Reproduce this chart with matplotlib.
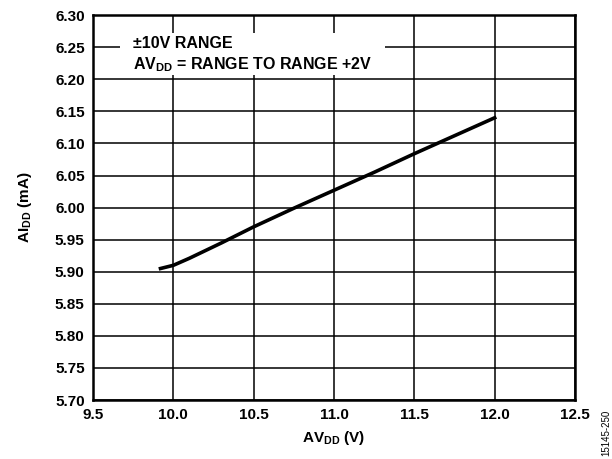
import numpy as np
import matplotlib
matplotlib.use("Agg")
import matplotlib.pyplot as plt
from matplotlib.patches import Rectangle

plt.rcParams['font.family'] = ['Liberation Sans', 'DejaVu Sans']
plt.rcParams['font.weight'] = 'bold'
plt.rcParams['axes.labelweight'] = 'bold'
plt.rcParams['mathtext.fontset'] = 'custom'
plt.rcParams['mathtext.rm'] = 'Liberation Sans:bold'
plt.rcParams['mathtext.it'] = 'Liberation Sans:bold'
plt.rcParams['mathtext.bf'] = 'Liberation Sans:bold'
plt.rcParams['mathtext.default'] = 'bf'

# data
avdd = [9.92, 10.0, 10.1, 10.2, 10.3, 10.5, 10.75, 11.0, 11.25, 11.5, 11.75, 12.0]
aidd = [5.905, 5.910, 5.921, 5.933, 5.945, 5.970, 5.999, 6.027, 6.055, 6.084, 6.112, 6.140]

xticks = [9.5, 10.0, 10.5, 11.0, 11.5, 12.0, 12.5]
yticks = [5.70, 5.75, 5.80, 5.85, 5.90, 5.95, 6.00, 6.05, 6.10, 6.15, 6.20, 6.25, 6.30]

fig = plt.figure(figsize=(6.12, 4.59), dpi=100)
ax = fig.add_axes([0.152, 0.1285, 0.7875, 0.8385])

ax.plot(avdd, aidd, color='black', linewidth=2.6, zorder=3)

ax.set_xlim(9.5, 12.5)
ax.set_ylim(5.70, 6.30)
ax.set_xticks(xticks)
ax.set_xticklabels(['%.1f' % v for v in xticks], fontweight='bold')
ax.set_yticks(yticks)
ax.set_yticklabels(['%.2f' % v for v in yticks], fontweight='bold')
ax.tick_params(length=0, labelsize=11, pad=6)
ax.grid(True, color='black', linewidth=1.1)
ax.set_axisbelow(True)
for s in ax.spines.values():
    s.set_linewidth(1.8)

ax.set_xlabel('AV$_{\\mathregular{DD}}$ (V)', fontsize=11, fontweight='bold', labelpad=5)
ax.set_ylabel('AI$_{\\mathregular{DD}}$ (mA)', fontsize=11, fontweight='bold', labelpad=15)

# white box behind the note
ax.add_patch(Rectangle((0.056, 0.844), 0.55, 0.109, transform=ax.transAxes,
                       facecolor='white', edgecolor='none', zorder=2.5))
ax.text(0.083, 0.927, '±10V RANGE', transform=ax.transAxes, fontsize=11.5,
        fontweight='bold', va='center', ha='left', zorder=4)
ax.text(0.083, 0.872, 'AV$_{\\mathregular{DD}}$ = RANGE TO RANGE +2V', transform=ax.transAxes,
        fontsize=11.5, fontweight='bold', va='center', ha='left', zorder=4)

fig.text(0.99, 0.057, '15145-250', rotation=90, fontsize=7, fontweight='normal',
         ha='center', va='center')

fig.savefig('out.png', dpi=100)
